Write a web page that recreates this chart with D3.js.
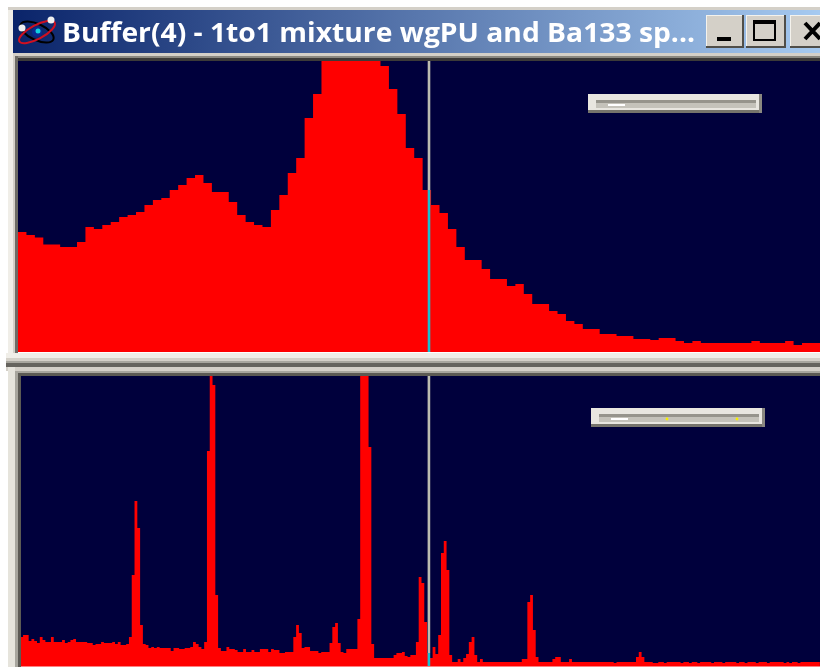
<!DOCTYPE html>
<html>
<head>
<meta charset="utf-8">
<script src="https://cdnjs.cloudflare.com/ajax/libs/d3/7.8.5/d3.min.js"></script>
<style>
html, body { margin: 0; padding: 0; background: #fff; overflow: hidden; }
svg { display: block; filter: blur(0.6px); }
</style>
</head>
<body>
<script>
var title = 'Buffer(4) - 1to1 mixture wgPU and Ba133 sp...';

// upper pane: zoomed region, counts per channel (the tallest run off the top)
var zoomCounts = [
    120, 117, 114.5, 107.5, 107.5, 105, 105, 110, 125, 123,
    127, 130, 135, 137, 140, 147, 152, 154, 162, 167,
    174, 177, 169, 160, 160, 150, 137, 130, 127, 125,
    142, 157, 179, 194, 234, 258, 305, 325, 340, 345,
    335, 320, 300, 286, 263, 238, 204, 194, 162, 147,
    139, 123, 105, 92, 92, 83, 73, 73, 66, 68,
    58, 48, 48, 41, 38, 31, 28, 23, 23, 18,
    18, 16, 16, 13, 13, 12, 14, 14, 11, 9,
    11, 9, 9, 9, 9, 9, 9, 11, 9, 9,
    9, 11, 7, 9, 9, 9
];

// lower pane: whole spectrum, counts per channel
var fullCounts = [
    29, 31, 31, 25, 27, 25, 23, 29, 26, 24,
    24, 29, 24, 24, 24, 26, 23, 24, 26, 27,
    24, 24, 24, 24, 23, 23, 21, 22, 22, 24,
    23, 23, 23, 24, 22, 24, 21, 21, 22, 29,
    91, 165, 138, 41, 22, 21, 18, 19, 18, 19,
    18, 18, 18, 18, 15, 18, 18, 17, 17, 18,
    18, 19, 24, 22, 19, 17, 24, 215, 300, 281,
    71, 18, 15, 15, 19, 17, 17, 16, 14, 14,
    17, 14, 14, 16, 14, 14, 17, 17, 17, 14,
    17, 16, 16, 13, 13, 14, 14, 14, 29, 41,
    33, 18, 19, 19, 15, 15, 15, 13, 14, 14,
    14, 23, 39, 43, 23, 14, 13, 17, 17, 17,
    17, 47, 320, 340, 310, 219, 22, 8, 8, 8,
    8, 8, 8, 8, 11, 13, 13, 14, 10, 9,
    11, 11, 24, 89, 83, 44, 13, 8, 19, 12,
    31, 113, 125, 96, 11, 4, 4, 7, 4, 8,
    12, 24, 29, 11, 4, 7, 4, 4, 4, 4,
    4, 4, 4, 4, 4, 4, 4, 4, 4, 4,
    7, 7, 64, 71, 36, 9, 4, 4, 4, 4,
    4, 7, 9, 9, 4, 4, 4, 7, 4, 4,
    4, 4, 4, 4, 4, 4, 4, 4, 4, 4,
    4, 4, 4, 3, 4, 4, 4, 4, 4, 4,
    4, 9, 14, 9, 4, 4, 4, 3, 3, 4,
    4, 3, 4, 4, 4, 4, 4, 3, 4, 4,
    3, 4, 4, 3, 4, 4, 4, 4, 3, 4,
    4, 4, 3, 4, 4, 4, 4, 3, 4, 4,
    3, 4, 4, 4, 3, 4, 4, 4, 3, 4,
    4, 4, 4, 4, 3, 4, 3, 4, 4, 3,
    4, 4, 4, 4, 4, 4, 4
];

var zoomCursor = 48.6;
var fullCursor = 146.2;
var zoomMarkers = [];
var fullMarkers = [660, 730];

var svg = d3.select('body').append('svg')
    .attr('width', 820)
    .attr('height', 667);

var defs = svg.append('defs');

var grad = defs.append('linearGradient').attr('id', 'titlebar');
grad.append('stop').attr('offset', '0%').attr('stop-color', '#0a246a');
grad.append('stop').attr('offset', '100%').attr('stop-color', '#a6caf0');

function box(x, y, w, h, fill) {
    return svg.append('rect')
        .attr('x', x).attr('y', y)
        .attr('width', w).attr('height', h)
        .attr('fill', fill);
}

// window frame
box(8, 7, 812, 3, '#d4d0c8');
box(8, 10, 5, 343, '#f0eee8');
box(13, 10, 807, 43, 'url(#titlebar)');
box(13, 53, 807, 3, '#d4d0c8');
box(13, 56, 807, 2, '#8a8880');
box(13, 58, 807, 3, '#3c3a38');
box(13, 56, 2, 297, '#d4d0c8');
box(15, 56, 3, 297, '#6e6c66');

function pane(opts) {
    box(opts.left, opts.top, opts.right - opts.left, opts.bottom - opts.top, '#00003c');

    var x = d3.scaleLinear()
        .domain([0, opts.values.length])
        .range([opts.x0, opts.x0 + opts.values.length * opts.step]);

    var y = d3.scaleLinear()
        .domain([0, opts.bottom - opts.top])
        .range([opts.bottom, opts.top]);

    defs.append('clipPath').attr('id', opts.id)
        .append('rect')
        .attr('x', opts.left).attr('y', opts.top)
        .attr('width', opts.right - opts.left)
        .attr('height', opts.bottom - opts.top);

    var g = svg.append('g').attr('clip-path', 'url(#' + opts.id + ')');

    var area = d3.area()
        .x(function(d, i) { return x(i); })
        .y0(y(0))
        .y1(function(d) { return y(d); })
        .curve(d3.curveStepAfter);

    // repeat the last count so the final channel gets its full width
    g.append('path')
        .datum(opts.values.concat(opts.values[opts.values.length - 1]))
        .attr('d', area)
        .attr('fill', '#ff0000');

    // cursor: pale over background, cyan where it crosses the trace
    var cx = x(opts.cursor);
    var under = opts.values[Math.floor(opts.cursor)];
    g.append('rect')
        .attr('x', cx).attr('y', opts.top)
        .attr('width', 2.6).attr('height', y(under) - opts.top)
        .attr('fill', '#bcbcb0');
    g.append('rect')
        .attr('x', cx).attr('y', y(under))
        .attr('width', 2.6).attr('height', y(0) - y(under))
        .attr('fill', '#18c0d0');
}

function slider(x, y, markers) {
    var w = 174, h = 19;
    box(x, y, w, h, '#e8e6e0');
    box(x, y + h - 3, w, 3, '#76746c');
    box(x + w - 3, y, 3, h, '#8a8880');
    box(x + 8, y + 6, w - 14, 3, '#96948c');
    box(x + 8, y + 9, w - 14, 5, '#c4c2ba');
    box(x + 20, y + 10, 17, 2, '#ffffff');
    markers.forEach(function(m) {
        svg.append('circle')
            .attr('cx', m + 7).attr('cy', y + 11)
            .attr('r', 1.4)
            .attr('fill', '#f8f000');
    });
}

pane({
    id: 'zoomClip', values: zoomCounts, cursor: zoomCursor,
    left: 18, right: 820, top: 61, bottom: 352, x0: 18, step: 8.43
});

// splitter between the panes
box(6, 353, 814, 5, '#f0eee8');
box(6, 358, 814, 3, '#d4d0c8');
box(6, 361, 814, 2, '#a8a69e');
box(6, 363, 814, 4, '#66645e');
box(6, 367, 814, 4, '#d4d0c8');
box(8, 371, 812, 2, '#a8a69e');
box(8, 373, 812, 3, '#5c5a54');
box(8, 367, 7, 300, '#e6e4dc');
box(15, 373, 3, 294, '#a8a69e');
box(18, 373, 3, 294, '#5c5a54');

pane({
    id: 'fullClip', values: fullCounts, cursor: fullCursor,
    left: 21, right: 820, top: 376, bottom: 666, x0: 20.3, step: 2.786
});
box(21, 666, 799, 1, '#ff8080');

slider(588, 94, zoomMarkers);
slider(591, 408, fullMarkers);

// title bar
var icon = svg.append('g').attr('transform', 'translate(37,32)');
icon.append('ellipse').attr('rx', 18).attr('ry', 8)
    .attr('transform', 'rotate(25)')
    .attr('fill', 'none').attr('stroke', '#000').attr('stroke-width', 2);
icon.append('ellipse').attr('rx', 20).attr('ry', 7)
    .attr('transform', 'rotate(-28)')
    .attr('fill', 'none').attr('stroke', '#d01020').attr('stroke-width', 2);
icon.append('circle').attr('r', 5).attr('fill', '#0a2a90');
icon.append('circle').attr('cx', 1).attr('cy', -1).attr('r', 2.5).attr('fill', '#10d0e0');
icon.append('circle').attr('cx', -15).attr('cy', -4).attr('r', 3.5).attr('fill', '#f0f0f0');
icon.append('circle').attr('cx', 14).attr('cy', -12).attr('r', 3.5).attr('fill', '#f0f0f0');

svg.append('text')
    .attr('x', 62).attr('y', 42)
    .attr('textLength', 633)
    .attr('lengthAdjust', 'spacingAndGlyphs')
    .style('font', 'bold 26px "Open Sans", sans-serif')
    .style('fill', '#fff')
    .text(title);

function button(x, w) {
    box(x, 15, w, 33, '#d4d0c8');
    box(x, 15, w, 1, '#f4f2ec');
    box(x, 15, 1, 33, '#f4f2ec');
    box(x, 46, w, 2, '#504e48');
    box(x + w - 2, 15, 2, 33, '#504e48');
}
button(706, 38);
button(746, 40);
button(790, 40);

box(717, 37, 14, 4, '#000');
svg.append('rect')
    .attr('x', 754).attr('y', 22)
    .attr('width', 21).attr('height', 18)
    .attr('fill', 'none').attr('stroke', '#000').attr('stroke-width', 2);
box(753, 20, 23, 4, '#000');
svg.append('path')
    .attr('d', 'M805,23L820,39M820,23L805,39')
    .attr('stroke', '#000').attr('stroke-width', 4);
</script>
</body>
</html>
